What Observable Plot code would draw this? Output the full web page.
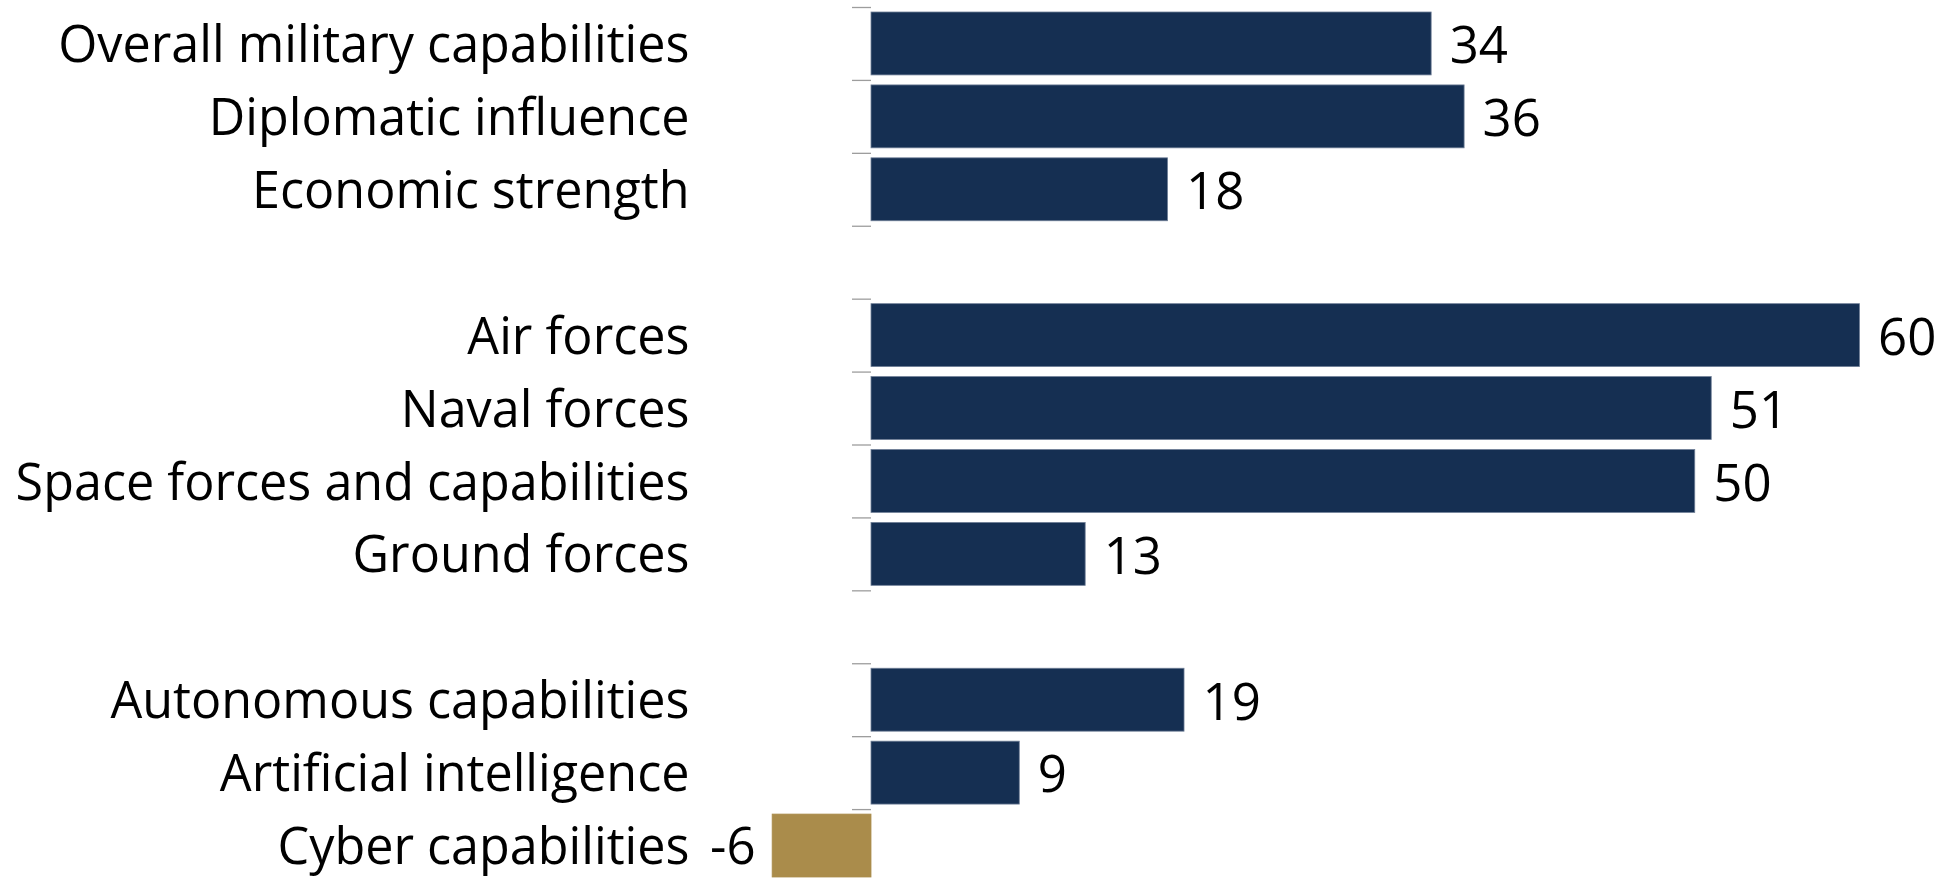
<!DOCTYPE html>
<html>
<head>
<meta charset="utf-8">
<script src="https://cdn.jsdelivr.net/npm/d3@7"></script>
<script src="https://cdn.jsdelivr.net/npm/@observablehq/plot@0.6"></script>
<style>
  html, body { margin: 0; padding: 0; background: #fff; }
  #chart svg { display: block; }
</style>
</head>
<body>
<div id="chart"></div>
<script>
const categories = [
  "Overall military capabilities", "Diplomatic influence", "Economic strength",
  "Air forces", "Naval forces", "Space forces and capabilities", "Ground forces",
  "Autonomous capabilities", "Artificial intelligence", "Cyber capabilities"
];
const values = [34, 36, 18, 60, 51, 50, 13, 19, 9, -6];
const groups = [1, 1, 1, 2, 2, 2, 2, 3, 3, 3];
const gapNames = ["gap-1", "gap-2"];

const data = categories.map((c, i) => ({category: c, value: values[i], group: groups[i]}));

// y domain: groups separated by an empty band
const yDomain = [];
[1, 2, 3].forEach((g, gi) => {
  if (gi > 0) yDomain.push(gapNames[gi - 1]);
  data.filter(d => d.group === g).forEach(d => yDomain.push(d.category));
});

const W = 1949, H = 878;
const yRange = [7, 882];
const step = (yRange[1] - yRange[0]) / yDomain.length;
const axisColor = "#9d9d9d";
const font = "'Open Sans', sans-serif";
const textDy = 2;

const chart = Plot.plot({
  width: W,
  height: H,
  marginLeft: 871,
  marginRight: 89.5,
  marginTop: 7,
  marginBottom: 0,
  style: {fontFamily: font, fontSize: "50.3px", color: "#000", background: "#fff", overflow: "hidden"},
  x: {domain: [0, 60], range: [871, 1859.5], axis: null},
  y: {domain: yDomain, range: yRange, padding: 0, round: false, axis: null},
  marks: [
    Plot.barX(data, {
      y: "category", x: "value",
      fill: d => d.value < 0 ? "#aa8c4b" : "#152f52",
      stroke: d => d.value < 0 ? "#aa8c4b" : "#6f7f97",
      strokeWidth: 0.8,
      insetTop: 5, insetBottom: 5
    }),
    Plot.text(data.filter(d => d.value >= 0), {
      y: "category", x: "value",
      text: d => String(d.value),
      textAnchor: "start",
      dx: 18, dy: textDy + 1,
      fontSize: 51,
      fill: "#000"
    }),
    Plot.text(data.filter(d => d.value < 0), {
      y: "category", x: "value",
      text: d => String(d.value),
      textAnchor: "end",
      dx: -17, dy: textDy,
      fontSize: 51,
      fill: "#000"
    }),
    Plot.ruleX([0], {stroke: axisColor, strokeWidth: 1.3, y1: yDomain[0], y2: yDomain[yDomain.length - 1], insetTop: -step / 2, insetBottom: -step / 2}),
    Plot.axisY({
      anchor: "left",
      tickSize: 19,
      stroke: axisColor,
      strokeWidth: 1.3,
      dy: -step / 2,
      text: null,
      label: null
    }),
    Plot.axisY({
      anchor: "left",
      tickSize: 0,
      tickPadding: 182,
      dy: textDy,
      tickFormat: d => gapNames.includes(d) ? "" : d,
      fill: "#000",
      fontSize: 50.3,
      label: null
    })
  ]
});

document.getElementById("chart").append(chart);
</script>
</body>
</html>
